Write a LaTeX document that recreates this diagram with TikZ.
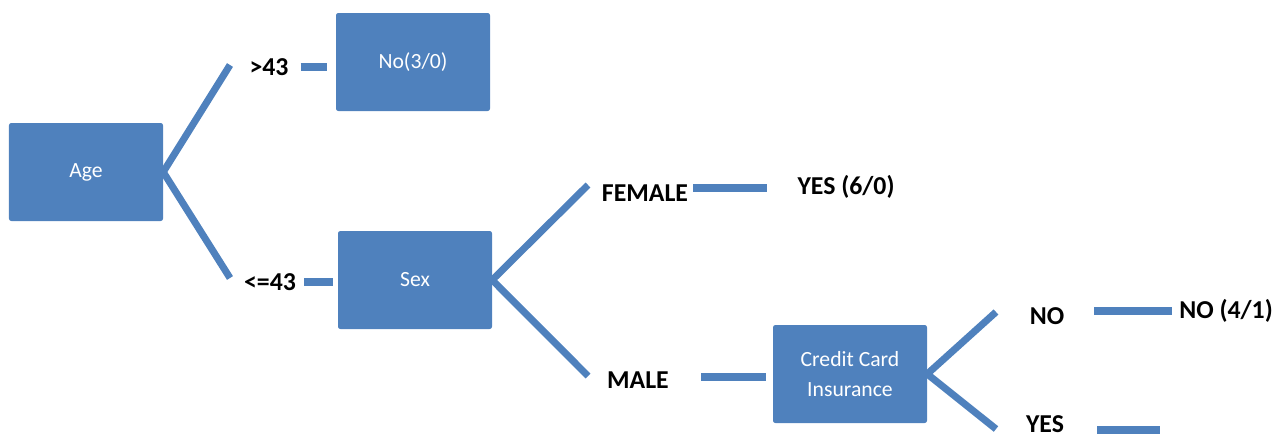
\documentclass[tikz,border=0pt]{standalone}
\usepackage{fontspec}
\setmainfont{Carlito}
\usetikzlibrary{positioning}
\definecolor{boxblue}{RGB}{79,129,189}

\begin{document}
\begin{tikzpicture}[x=0.03cm,y=-0.03cm,
  box/.style={rectangle,rounded corners=2pt,fill=boxblue,text=white,
    minimum width=4.62cm,minimum height=2.94cm,align=center,
    font=\fontsize{18.5}{25}\selectfont},
  lbl/.style={inner sep=0pt,font=\bfseries\fontsize{22}{24}\selectfont},
  branch/.style={draw=boxblue,line width=6pt,line join=round},
  stub/.style={draw=boxblue,line width=6pt}]
  \useasboundingbox (0,0) rectangle (1287,439);
  % boxes
  \node[box] (age) at (86,172) {Age};
  \node[box] (no30) at (413,62) {No(3/0)};
  \node[box] (sex) at (415,280) {Sex};
  \node[box] (cci) at (850,374) {Credit Card\\Insurance};
  % labels
  \node[lbl] (gt) at (269,67) {>43};
  \node[lbl] (le) at (270,282) {<=43};
  \node[lbl] (female) at (645,193) {FEMALE};
  \node[lbl] (yes60) at (846,187) {YES (6/0)};
  \node[lbl] (male) at (638,380) {MALE};
  \node[lbl] (no) at (1047,316) {NO};
  \node[lbl] (no41) at (1226,311) {NO (4/1)};
  \node[lbl] (yes) at (1045,424) {YES};
  % ends of the branches
  \coordinate (a1) at (230,65);
  \coordinate (a2) at (230,278);
  \coordinate (s1) at (588,185);
  \coordinate (s2) at (588,376);
  \coordinate (c1) at (996,312);
  \coordinate (c2) at (996,429);
  \coordinate (yesend) at (1160,430);
  \path[branch] (a1) -- (age.east) -- (a2);
  \path[branch] (s1) -- (sex.east) -- (s2);
  \path[branch] (c1) -- (cci.east) -- (c2);
  \path[stub]
  (gt.east) edge [shorten <=0.36cm,shorten >=0.27cm] (gt.east -| no30.west)
  (le.east) edge [shorten <=0.24cm,shorten >=0.15cm] (le.east -| sex.west)
  ([yshift=0.15cm]female.east) edge [shorten <=0.15cm,shorten >=0.9cm] ([yshift=0.15cm]female.east -| yes60.west)
  ([yshift=0.09cm]male.east) edge [shorten <=0.96cm,shorten >=0.21cm] ([yshift=0.09cm]male.east -| cci.west)
  ([yshift=0.15cm]no.east) edge [shorten <=0.9cm,shorten >=0.21cm] ([yshift=0.15cm]no.east -| no41.west)
  (yes.east |- yesend) edge [shorten <=0.99cm] (yesend)
  ;
\end{tikzpicture}
\end{document}
